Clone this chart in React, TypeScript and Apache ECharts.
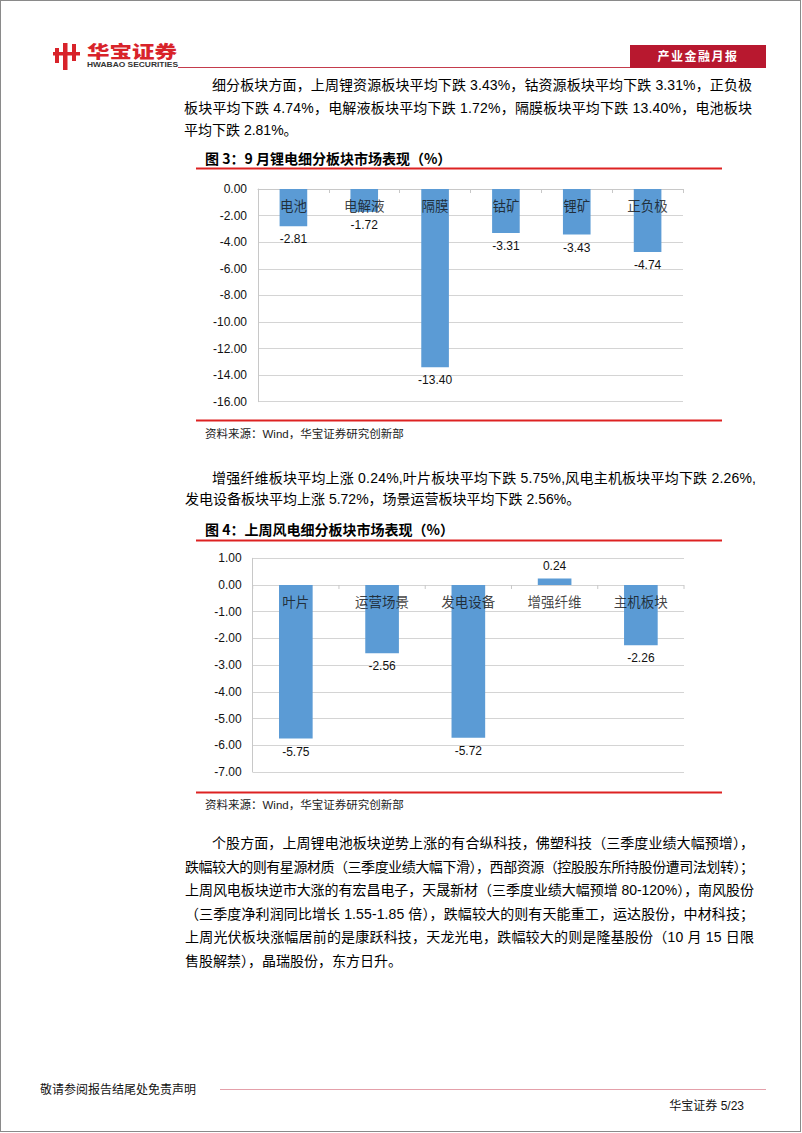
import React, { useEffect, useLayoutEffect, useRef } from "react";
import * as echarts from "echarts";

// ---------- data ----------
const cats1 = ["电池", "电解液", "隔膜", "钴矿", "锂矿", "正负极"];
const vals1 = [-2.81, -1.72, -13.4, -3.31, -3.43, -4.74];
const axis1 = { min: -16, max: 0, interval: 2 };

const cats2 = ["叶片", "运营场景", "发电设备", "增强纤维", "主机板块"];
const vals2 = [-5.75, -2.56, -5.72, 0.24, -2.26];
const axis2 = { min: -7, max: 1, interval: 1 };

const title1 = "图 3：9 月锂电细分板块市场表现（%）";
const title2 = "图 4：上周风电细分板块市场表现（%）";
const sourceText = "资料来源：Wind，华宝证券研究创新部";

const para1 = [
  "细分板块方面，上周锂资源板块平均下跌 3.43%，钴资源板块平均下跌 3.31%，正负极",
  "板块平均下跌 4.74%，电解液板块平均下跌 1.72%，隔膜板块平均下跌 13.40%，电池板块",
  "平均下跌 2.81%。",
];
const para2 = [
  "增强纤维板块平均上涨 0.24%,叶片板块平均下跌 5.75%,风电主机板块平均下跌 2.26%,",
  "发电设备板块平均上涨 5.72%，场景运营板块平均下跌 2.56%。",
];
const para3 = [
  "个股方面，上周锂电池板块逆势上涨的有合纵科技，佛塑科技（三季度业绩大幅预增），",
  "跌幅较大的则有星源材质（三季度业绩大幅下滑），西部资源（控股股东所持股份遭司法划转）；",
  "上周风电板块逆市大涨的有宏昌电子，天晟新材（三季度业绩大幅预增 80-120%），南风股份",
  "（三季度净利润同比增长 1.55-1.85 倍），跌幅较大的则有天能重工，运达股份，中材科技；",
  "上周光伏板块涨幅居前的是康跃科技，天龙光电，跌幅较大的则是隆基股份（10 月 15 日限",
  "售股解禁），晶瑞股份，东方日升。",
];

const SANS = "'Liberation Sans', Arial, 'Noto Sans CJK SC', sans-serif";
const CJK = "'Noto Sans CJK SC', sans-serif";
const BLUE = "#5b9bd5";
const RED = "#dd2222";
const GRID_GREY = "#c8c8c8";

// ---------- text line with justification ----------
function TextLine(props: { text: string; x: number; y: number; right?: number; size?: number }) {
  const { text, x, y, right, size = 14 } = props;
  const ref = useRef<HTMLSpanElement>(null);
  useLayoutEffect(() => {
    const measure = () => {
      const el = ref.current;
      if (!el || right == null) return;
      el.style.letterSpacing = "0px";
      const w = el.getBoundingClientRect().width;
      const n = Array.from(text).length;
      const ls = (right - x - w) / (n - 1);
      el.style.letterSpacing = ls + "px";
    };
    measure();
    const f: any = (document as any).fonts;
    if (f && f.ready) f.ready.then(measure);
  }, [text, x, right]);
  return (
    <span
      ref={ref}
      style={{
        position: "absolute",
        left: x,
        top: y - 10,
        fontSize: size,
        lineHeight: "20px",
        whiteSpace: "nowrap",
        fontFamily: SANS,
        color: "#000",
      }}
    >
      {text}
    </span>
  );
}

function barData(vals: number[]) {
  return vals.map((v) => ({
    value: v,
    label: { position: v < 0 ? "bottom" : "top" },
  }));
}

function makeXAxis(gridIndex: number, data: string[], top: boolean) {
  return {
    type: "category",
    gridIndex,
    data,
    position: top ? "top" : "bottom",
    axisLine: { show: top, onZero: false, lineStyle: { color: GRID_GREY, width: 1 } },
    axisTick: { show: top, inside: true, length: 4, lineStyle: { color: GRID_GREY } },
    axisLabel: { show: false },
    splitLine: { show: false },
  };
}

function makeYAxis(gridIndex: number, a: { min: number; max: number; interval: number }) {
  return {
    type: "value",
    gridIndex,
    min: a.min,
    max: a.max,
    interval: a.interval,
    axisLine: { show: true, onZero: false, lineStyle: { color: GRID_GREY } },
    axisTick: { show: false },
    axisLabel: {
      margin: 11,
      fontSize: 12,
      color: "#111",
      fontFamily: SANS,
      formatter: (v: number) => v.toFixed(2),
    },
    splitLine: { show: true, lineStyle: { color: "#d4d4d4", width: 1 } },
  };
}

function makeSeries(idx: number, vals: number[]) {
  return {
    type: "bar",
    xAxisIndex: idx,
    yAxisIndex: idx,
    barWidth: "39%",
    z: 2,
    data: barData(vals),
    itemStyle: { color: BLUE },
    label: {
      show: true,
      distance: 7,
      fontSize: 12,
      color: "#111",
      fontFamily: SANS,
      formatter: (p: any) => Number(p.value).toFixed(2),
    },
  };
}

// category names drawn at the zero line through the chart's own scales
function makeCatLabels(idx: number, cats: string[]) {
  return {
    type: "scatter",
    xAxisIndex: idx,
    yAxisIndex: idx,
    z: 4,
    symbol: "circle",
    symbolSize: 1,
    silent: true,
    itemStyle: { color: "transparent" },
    data: cats.map((c) => [c, 0]),
    label: {
      show: true,
      position: "bottom",
      distance: 9,
      fontSize: 13.5,
      color: "#111",
      fontFamily: CJK,
      formatter: (p: any) => cats[p.dataIndex],
    },
  };
}

// small ticks at category boundaries on the zero line
function makeZeroTicks(idx: number, cats: string[]) {
  return {
    type: "custom",
    xAxisIndex: idx,
    yAxisIndex: idx,
    z: 3,
    silent: true,
    data: cats.map((c, i) => [i, 0]),
    renderItem: (params: any, api: any) => {
      const i = api.value(0);
      const p = api.coord([i, 0]);
      const w = api.size([1, 0])[0];
      const style = { stroke: GRID_GREY, lineWidth: 1 };
      const children: any[] = [
        { type: "line", shape: { x1: p[0] - w / 2, y1: p[1], x2: p[0] - w / 2, y2: p[1] + 4 }, style },
      ];
      if (i === cats.length - 1) {
        children.push({
          type: "line",
          shape: { x1: p[0] + w / 2, y1: p[1], x2: p[0] + w / 2, y2: p[1] + 4 },
          style,
        });
      }
      return { type: "group", children };
    },
  };
}

function Charts() {
  const ref = useRef<HTMLDivElement>(null);
  useEffect(() => {
    if (!ref.current) return;
    const chart = echarts.init(ref.current, undefined, { renderer: "svg" });
    const titleStyle = (text: string) => ({
      text,
      fontSize: 14,
      fontWeight: "bold",
      fontFamily: CJK,
      fill: "#000",
      verticalAlign: "middle",
    });
    const srcStyle = {
      text: sourceText,
      fontSize: 11.5,
      fontFamily: SANS,
      fill: "#222",
      verticalAlign: "middle",
    };
    chart.setOption({
      animation: false,
      grid: [
        { left: 258, top: 189, width: 425, height: 212.7 },
        { left: 252.7, top: 558.3, width: 431.3, height: 213.6 },
      ],
      xAxis: [makeXAxis(0, cats1, true), makeXAxis(1, cats2, false)],
      yAxis: [makeYAxis(0, axis1), makeYAxis(1, axis2)],
      series: [
        makeSeries(0, vals1),
        makeSeries(1, vals2),
        makeCatLabels(0, cats1),
        makeCatLabels(1, cats2),
        makeZeroTicks(1, cats2),
      ],
      graphic: [
        { type: "text", x: 205, y: 157.5, style: titleStyle(title1) },
        { type: "rect", shape: { x: 196, y: 167.5, width: 526, height: 2 }, style: { fill: RED } },
        { type: "rect", shape: { x: 196, y: 419.5, width: 526, height: 2 }, style: { fill: RED } },
        { type: "text", x: 205, y: 433.5, style: srcStyle },
        { type: "text", x: 205, y: 529, style: titleStyle(title2) },
        { type: "rect", shape: { x: 196, y: 539.5, width: 526, height: 2 }, style: { fill: RED } },
        { type: "rect", shape: { x: 196, y: 791.5, width: 526, height: 2 }, style: { fill: RED } },
        { type: "text", x: 205, y: 804.5, style: srcStyle },
      ],
    });
    return () => chart.dispose();
  }, []);
  return (
    <div
      ref={ref}
      style={{ position: "absolute", left: 0, top: 0, width: 802, height: 1133 }}
    />
  );
}

function Header() {
  return (
    <svg
      width={802}
      height={80}
      style={{ position: "absolute", left: 0, top: 0 }}
    >
      {/* icon */}
      <rect x={55} y={48} width={4} height={15} fill="#d8232a" />
      <rect x={63} y={43} width={4.5} height={27} fill="#d8232a" />
      <rect x={72} y={44} width={4} height={17} fill="#d8232a" />
      <rect x={53} y={52} width={27} height={3.5} fill="#d8232a" />
      <text
        x={87}
        y={57.5}
        fontSize={17.5}
        fontWeight={900}
        fill="#d8232a"
        fontFamily={CJK}
        textLength={90}
        lengthAdjust="spacingAndGlyphs"
      >
        华宝证券
      </text>
      <text
        x={87}
        y={67}
        fontSize={7}
        fontWeight={700}
        fill="#333"
        fontFamily={SANS}
        textLength={91}
        lengthAdjust="spacingAndGlyphs"
      >
        HWABAO SECURITIES
      </text>
      <line x1={178} y1={67.5} x2={630} y2={67.5} stroke="#c43b4c" strokeWidth={1} />
      <rect x={630} y={45} width={136} height={23} fill="#b8182f" />
      <text
        x={698}
        y={61}
        fontSize={12}
        fontWeight={700}
        fill="#fff"
        fontFamily={CJK}
        textAnchor="middle"
        letterSpacing={1.5}
      >
        产业金融月报
      </text>
    </svg>
  );
}

function Footer() {
  return (
    <svg
      width={802}
      height={60}
      style={{ position: "absolute", left: 0, top: 1070 }}
    >
      <text x={40} y={23.5} fontSize={12} fill="#111" fontFamily={CJK}>
        敬请参阅报告结尾处免责声明
      </text>
      <line x1={220} y1={19.5} x2={766} y2={19.5} stroke="#e4a0aa" strokeWidth={1} />
      <text x={744} y={39.5} fontSize={12} fill="#111" fontFamily={SANS} textAnchor="end">
        华宝证券 5/23
      </text>
    </svg>
  );
}

export default function App() {
  const p1y = [85, 107.5, 130];
  const p2y = [477.5, 498.5];
  const p3y = [843, 866.5, 890, 913.5, 937, 960.5];
  return (
    <div
      style={{
        position: "absolute",
        left: 0,
        top: 0,
        width: 802,
        height: 1133,
        background: "#fff",
        overflow: "hidden",
      }}
    >
      <Charts />
      <Header />
      {para1.map((t, i) => (
        <TextLine
          key={"a" + i}
          text={t}
          x={i === 0 ? 212 : 184}
          y={p1y[i]}
          right={i < para1.length - 1 ? 752 : undefined}
        />
      ))}
      {para2.map((t, i) => (
        <TextLine
          key={"b" + i}
          text={t}
          x={i === 0 ? 212 : 185}
          y={p2y[i]}
          right={i < para2.length - 1 ? 756 : undefined}
        />
      ))}
      {para3.map((t, i) => (
        <TextLine
          key={"c" + i}
          text={t}
          x={i === 0 ? 212 : 185}
          y={p3y[i]}
          right={i < para3.length - 1 ? 754 : undefined}
        />
      ))}
      <Footer />
      <div
        style={{
          position: "absolute",
          left: 0,
          top: 0,
          width: 801,
          height: 1132,
          border: "1px solid #8a8a8a",
          boxSizing: "border-box",
          pointerEvents: "none",
        }}
      />
    </div>
  );
}
